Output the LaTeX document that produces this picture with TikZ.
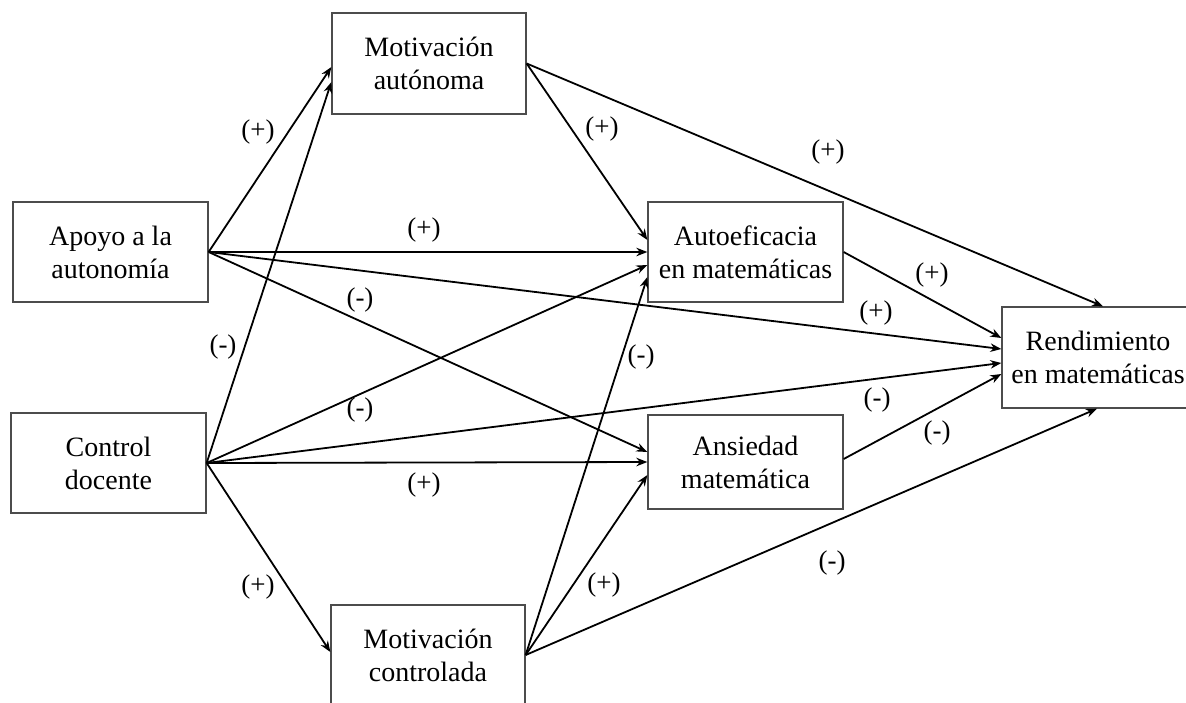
\documentclass[tikz,border=0pt]{standalone}
\usepackage{fontspec}
\setmainfont{Liberation Serif}
\usetikzlibrary{arrows.meta,calc}
\begin{document}
\begin{tikzpicture}[x=1pt,y=-1pt,
  box/.style={draw=black!70, line width=1.3pt, minimum width=195pt, minimum height=100pt,
    align=center, inner sep=0pt, font=\fontsize{28}{33}\selectfont},
  arr/.style={line width=1.8pt, -{Stealth[length=11pt,width=8.5pt]}},
  lbl/.style={font=\fontsize{27}{30}\selectfont, inner sep=0pt}]
\useasboundingbox (0,0) rectangle (1186,702);

% boxes
\node[box] (apoyo)   at (110.5,252) {Apoyo a la\\autonomía};
\node[box] (control) at (108.5,463) {Control\\docente};
\node[box, minimum width=194pt, minimum height=101pt] (mauto) at (429,63.5) {Motivación\\autónoma};
\node[box, minimum width=194pt] (mcont) at (428,655) {Motivación\\controlada};
\node[box] (autoef)  at (745.5,252) {Autoeficacia\\en matemáticas};
\node[box, minimum height=94pt] (ansied) at (745.5,462) {Ansiedad\\matemática};
\node[box, minimum width=192pt, minimum height=101pt] (rend) at (1098,357.5) {Rendimiento\\en matemáticas};

% arrival points
\coordinate (mautoA) at ([yshift=-3.5pt]mauto.west);
\coordinate (mautoB) at ([yshift=-18.5pt]mauto.west);
\coordinate (autoefA) at ([yshift=12pt]autoef.west);
\coordinate (autoefB) at (autoef.west);
\coordinate (autoefC) at ([yshift=-13pt]autoef.west);
\coordinate (autoefD) at ([yshift=-25pt]autoef.west);
\coordinate (ansiedA) at ([yshift=10pt]ansied.west);
\coordinate (ansiedB) at (ansied.west);
\coordinate (ansiedC) at ([yshift=-13pt]ansied.west);
\coordinate (rendA) at ([yshift=19.5pt]rend.west);
\coordinate (rendB) at ([yshift=8.5pt]rend.west);
\coordinate (rendC) at ([yshift=-5.5pt]rend.west);
\coordinate (rendD) at ([yshift=-16.5pt]rend.west);
\coordinate (rendT) at ([xshift=5pt]rend.north);
\coordinate (rendS) at ([xshift=-1pt]rend.south);
\coordinate (mcontA) at ([yshift=3pt]mcont.west);
\coordinate (ansiedOut) at ([yshift=3pt]ansied.east);

% connectors
\draw[arr] (apoyo.east) -- (mautoA);
\draw[arr] (apoyo.east) -- (autoefB);
\draw[arr] (apoyo.east) -- (rendB);
\draw[arr] (apoyo.east) -- (ansiedA);
\draw[arr] (control.east) -- (mautoB);
\draw[arr] (control.east) -- (autoefC);
\draw[arr] (control.east) -- (rendC);
\draw[arr] (control.east) -- (ansiedB);
\draw[arr] (control.east) -- (mcontA);
\draw[arr] (mauto.east) -- (autoefA);
\draw[arr] (mauto.east) -- (rendT);
\draw[arr] (autoef.east) -- (rendA);
\draw[arr] (ansiedOut) -- (rendD);
\draw[arr] (mcont.east) -- (autoefD);
\draw[arr] (mcont.east) -- (ansiedC);
\draw[arr] (mcont.east) -- (rendS);

% labels
\node[lbl] (l1)  at (258,132) {(+)};
\node[lbl] (l2)  at (424,230) {(+)};
\node[lbl] (l3)  at (876,313) {(+)};
\node[lbl] (l4)  at (360,300) {(-)};
\node[lbl] (l5)  at (223,347) {(-)};
\node[lbl] (l6)  at (360,410) {(-)};
\node[lbl] (l7)  at (877,400) {(-)};
\node[lbl] (l8)  at (424,485) {(+)};
\node[lbl] (l9)  at (258,587) {(+)};
\node[lbl] (l10) at (602,129) {(+)};
\node[lbl] (l11) at (828,152) {(+)};
\node[lbl] (l12) at (932,275) {(+)};
\node[lbl] (l13) at (937,433) {(-)};
\node[lbl] (l14) at (641,357) {(-)};
\node[lbl] (l15) at (604,585) {(+)};
\node[lbl] (l16) at (832,563) {(-)};
\end{tikzpicture}
\end{document}
